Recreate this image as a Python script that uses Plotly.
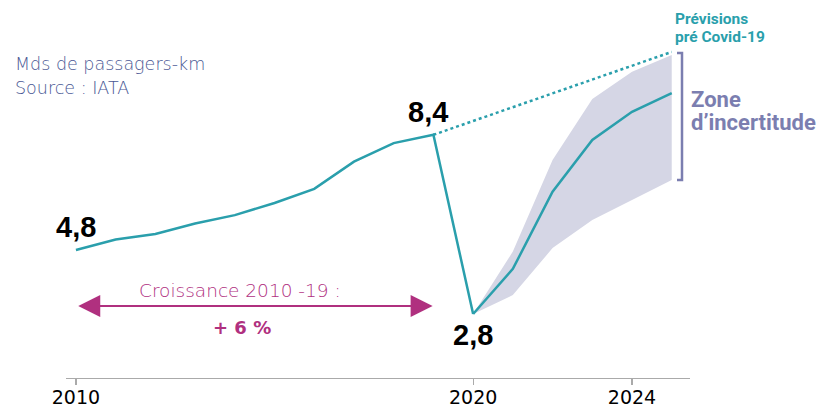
import plotly.graph_objects as go

# ---- data ----
hist_years = [2010, 2011, 2012, 2013, 2014, 2015, 2016, 2017, 2018, 2019, 2020]
hist_values = [4.8, 5.13, 5.3, 5.63, 5.89, 6.27, 6.71, 7.56, 8.14, 8.4, 2.8]
fc_years = [2020, 2021, 2022, 2023, 2024, 2025]
fc_values = [2.8, 4.21, 6.62, 8.24, 9.12, 9.7]
band_upper = [2.8, 4.75, 7.61, 9.52, 10.37, 10.89]
band_lower = [2.8, 3.39, 4.86, 5.74, 6.36, 6.99]
precovid_years = [2019, 2025]
precovid_values = [8.4, 10.99]
tick_years = [2010, 2020, 2024]
tick_labels = ["2010", "2020", "2024"]
labelled_points = [(2010, 4.8, "4,8"), (2019, 8.4, "8,4"), (2020, 2.8, "2,8")]

TEAL = "#2A9FAC"
BAND = "#D5D6E5"
PURPLE = "#7B7EB0"
MAGENTA = "#B0307F"
NAVY = "#4A5894"

W, H = 832, 407
L, R, T, B = 66, 142, 10, 29
pw, ph = W - L - R, H - T - B


def px(x):
    return (x - L) / pw


def py(y):
    return (H - B - y) / ph


def note(xp, yp, text, font, xanchor="center"):
    fig.add_annotation(x=px(xp), y=py(yp), xref="paper", yref="paper",
                       xanchor=xanchor, yanchor="middle", showarrow=False,
                       text=text, font=font)


fig = go.Figure()

fig.add_trace(go.Scatter(
    x=fc_years + fc_years[::-1], y=band_upper + band_lower[::-1],
    fill="toself", fillcolor=BAND, line=dict(width=0), mode="lines",
    hoverinfo="skip", showlegend=False))
fig.add_trace(go.Scatter(
    x=precovid_years, y=precovid_values, mode="lines",
    line=dict(color=TEAL, width=2.5, dash="dot"), showlegend=False))
fig.add_trace(go.Scatter(
    x=hist_years, y=hist_values, mode="lines",
    line=dict(color=TEAL, width=2.5), showlegend=False))
fig.add_trace(go.Scatter(
    x=fc_years, y=fc_values, mode="lines",
    line=dict(color=TEAL, width=2.5), showlegend=False))

shifts = {"4,8": (0, 23), "8,4": (-5, 23), "2,8": (0, -21)}
for xv, yv, txt in labelled_points:
    xs, ys = shifts[txt]
    fig.add_annotation(x=xv, y=yv, text=txt, showarrow=False, xshift=xs, yshift=ys,
                       xanchor="center", yanchor="middle",
                       font=dict(family="Liberation Sans", size=29, color="#000000", weight="bold"))

# double-headed growth arrow
fig.add_annotation(x=2019 - 0.02, y=3.05, ax=2010 + 0.02, ay=3.05, xref="x", yref="y",
                   axref="x", ayref="y", text="", showarrow=True, arrowhead=2,
                   arrowside="end+start", arrowwidth=2, arrowsize=2.2, arrowcolor=MAGENTA)
note(240, 290, "Croissance 2010 -19 :",
     dict(family="DejaVu Sans", size=18.5, color=MAGENTA, weight=300))
note(242, 327, "+ 6 %",
     dict(family="DejaVu Sans", size=18, color=MAGENTA, weight="bold"))

# top-left note
note(13, 64, "Mds de passagers-km", dict(family="DejaVu Sans", size=17.5, color=NAVY, weight=300), "left")
note(13, 88, "Source : IATA", dict(family="DejaVu Sans", size=17.5, color=NAVY, weight=300), "left")

# pre-covid label
note(673, 19, "Prévisions", dict(family="Roboto", size=15.5, color=TEAL, weight="bold"), "left")
note(673, 37, "pré Covid-19", dict(family="Roboto", size=15.5, color=TEAL, weight="bold"), "left")

# uncertainty bracket
fig.add_shape(type="path", xref="paper", yref="paper",
              path=f"M {px(677)} {py(53)} L {px(682)} {py(53)} L {px(682)} {py(180)} L {px(677)} {py(180)}",
              line=dict(color=PURPLE, width=2.5))
note(689, 99, "Zone", dict(family="Roboto", size=22, color=PURPLE, weight="bold"), "left")
note(689, 123, "d’incertitude", dict(family="Roboto", size=22, color=PURPLE, weight="bold"), "left")

fig.update_layout(
    width=W, height=H, margin=dict(l=L, r=R, t=T, b=B, autoexpand=False),
    paper_bgcolor="white", plot_bgcolor="white", showlegend=False,
    xaxis=dict(range=[2009.75, 2025.46], showgrid=False, zeroline=False, automargin=False,
               showline=True, linecolor="#AAAAAA", linewidth=1.2,
               tickmode="array", tickvals=tick_years, ticktext=tick_labels,
               ticks="outside", ticklen=6, tickcolor="#AAAAAA", tickwidth=1.2,
               ticklabelstandoff=-4,
               tickfont=dict(family="DejaVu Sans", size=19, color="#000000"),
               fixedrange=True),
    yaxis=dict(range=[0.8, 12.3], visible=False, automargin=False, fixedrange=True),
)

fig.write_html(
    "out.html",
    config={"displayModeBar": False, "responsive": False, "staticPlot": True},
    post_script=("document.body.style.margin='0';document.body.style.padding='0';"
                 "document.documentElement.style.overflow='hidden';"
                 "document.body.style.overflow='hidden';"),
)
